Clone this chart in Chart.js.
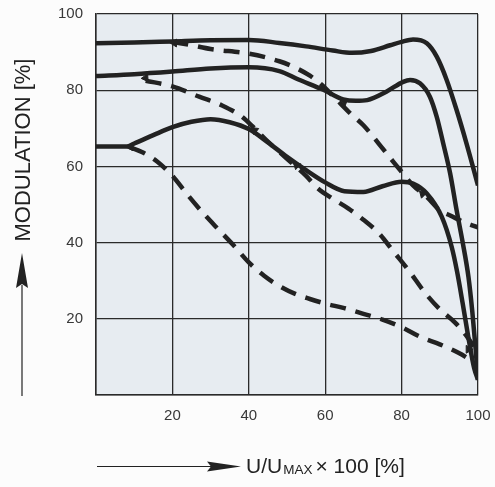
<!DOCTYPE html>
<html>
<head>
<meta charset="utf-8">
<script src="https://cdn.jsdelivr.net/npm/chart.js@4.4.1/dist/chart.umd.min.js"></script>
<style>
  html, body { margin: 0; padding: 0; background: #fcfcfc; }
  #c { display: block; }
</style>
</head>
<body>
<canvas id="c" width="495" height="487"></canvas>
<script>
'use strict';

// tick values shown on both axes
const xTicks = [20, 40, 60, 80, 100];
const yTicks = [20, 40, 60, 80, 100];

// solid curves
const solidTopX = [0, 10, 20, 30, 40, 48, 55, 62, 67, 72, 77, 80, 83, 86.6, 89.2, 91.8, 94.4, 97, 100];
const solidTopY = [92.3, 92.5, 92.8, 93.1, 93.2, 92.4, 91.5, 90.4, 89.8, 90.3, 91.8, 92.7, 93.3, 92.3, 88.8, 82.7, 74.8, 66, 55];

const solidMidX = [0, 10, 20, 30, 40, 48, 53, 59.5, 64.7, 68, 71, 76, 80.4, 82.2, 84.8, 87.4, 89.2, 90.9, 92.7, 94.4, 96, 97.5, 98.5, 99.3, 100];
const solidMidY = [83.7, 84.2, 84.9, 85.7, 86, 85, 82.8, 80.1, 77.6, 77.2, 77.4, 79.6, 82.2, 82.7, 81.8, 78.3, 73, 66, 58.2, 48.5, 40, 31, 22, 13, 4];

const solidLowX = [0, 8, 10, 15, 20, 25, 30, 35, 40, 45, 50, 55, 60, 65, 70, 75, 80, 83, 86.6, 90.5, 93.1, 94.5, 96, 97.5, 99, 100];
const solidLowY = [65.2, 65.2, 66, 68.2, 70.3, 71.7, 72.4, 71.6, 69.8, 66.3, 62.5, 59, 55.8, 53.5, 53.3, 54.8, 56, 55.5, 52.9, 46.8, 38.9, 32.5, 24, 15, 7, 4];

// dashed curves
const dashTopX = [20, 25, 30, 40, 48, 52, 56, 59, 63, 67, 70, 74, 78, 80.5, 83, 86.6, 90, 93, 96, 100];
const dashTopY = [92.7, 91.8, 90.8, 89.6, 87.6, 86, 83.8, 81.5, 77.5, 73.5, 70.8, 66, 61, 58, 55, 52, 48.5, 47, 45.5, 44];

const dashMidX = [13, 20, 27, 33, 38, 41, 45, 50, 55, 58, 62, 66, 70, 74, 78, 82, 86, 90, 94, 97, 100];
const dashMidY = [82.5, 81, 78.3, 76, 73.2, 70.5, 66.5, 62, 57.5, 54.3, 51.5, 49, 46, 42.5, 37.5, 32.5, 27, 22.5, 19, 15.5, 11];

const dashLowX = [9, 12, 16, 20, 24, 28, 32, 36, 40, 44, 48, 52, 56, 60, 65, 70, 75, 80, 85, 90, 95, 100];
const dashLowY = [65, 63.8, 61.3, 57.5, 52.5, 47.8, 43.5, 39.3, 34.8, 31.3, 28.6, 26.6, 25.2, 24, 22.8, 21.3, 19.8, 17.8, 15.2, 13.3, 11, 8];

// small arrow marks where dashed branches meet the solid curves
const arrowX = [20.5, 13, 9, 41.5, 52.5, 65, 85.5, 97.5];
const arrowY = [92.4, 83.2, 65.1, 69.5, 60.3, 77, 52.8, 12];
const arrowRot = [-88, -95, -95, -52, -48, -70, -45, -30];

const INK = '#222222';

function toPoints(xs, ys) {
    return xs.map((x, i) => ({ x: x, y: ys[i] }));
}

function curve(xs, ys, dashed) {
    return {
        data: toPoints(xs, ys),
        borderColor: INK,
        borderWidth: 4.5,
        borderDash: dashed ? [16, 10] : [],
        pointRadius: 0,
        fill: false,
        cubicInterpolationMode: 'monotone'
    };
}

// plot background + axis titles with arrows
const decor = {
    id: 'decor',
    beforeDraw(chart) {
        const { ctx, chartArea: a } = chart;
        ctx.save();
        ctx.fillStyle = '#fcfcfc';
        ctx.fillRect(0, 0, chart.width, chart.height);
        ctx.fillStyle = '#e7ecf1';
        ctx.fillRect(a.left, a.top, a.right - a.left, a.bottom - a.top);
        ctx.restore();
    },
    afterDraw(chart) {
        const ctx = chart.ctx;
        ctx.save();
        ctx.fillStyle = INK;
        ctx.strokeStyle = INK;
        ctx.lineWidth = 1.2;

        // y title
        ctx.save();
        ctx.translate(30, 150);
        ctx.rotate(-Math.PI / 2);
        ctx.font = '22px "Liberation Sans", Arial, sans-serif';
        ctx.textAlign = 'center';
        ctx.textBaseline = 'alphabetic';
        ctx.fillText('MODULATION [%]', 0, 0);
        ctx.restore();

        // y arrow
        ctx.beginPath();
        ctx.moveTo(22, 396);
        ctx.lineTo(22, 285);
        ctx.stroke();
        ctx.beginPath();
        ctx.moveTo(22, 253);
        ctx.lineTo(28, 288);
        ctx.lineTo(22, 284);
        ctx.lineTo(16, 288);
        ctx.closePath();
        ctx.fill();

        // x arrow
        ctx.beginPath();
        ctx.moveTo(97, 466.5);
        ctx.lineTo(212, 466.5);
        ctx.stroke();
        ctx.beginPath();
        ctx.moveTo(241, 466.5);
        ctx.lineTo(207, 461.5);
        ctx.lineTo(211, 466.5);
        ctx.lineTo(207, 471.5);
        ctx.closePath();
        ctx.fill();

        // x title with subscript
        ctx.textBaseline = 'alphabetic';
        ctx.textAlign = 'left';
        let x = 246;
        const base = 473;
        ctx.font = '21px "Liberation Sans", Arial, sans-serif';
        ctx.fillText('U/U', x, base);
        x += ctx.measureText('U/U').width + 1;
        ctx.font = '13.5px "Liberation Sans", Arial, sans-serif';
        ctx.fillText('MAX', x, base + 1);
        x += ctx.measureText('MAX').width + 3;
        ctx.font = '21px "Liberation Sans", Arial, sans-serif';
        ctx.fillText('\u00d7 100 [%]', x, base);
        ctx.restore();
    }
};

const tickFont = { family: '"Liberation Sans", Arial, sans-serif', size: 15 };

new Chart(document.getElementById('c'), {
    type: 'line',
    data: {
        datasets: [
            curve(solidTopX, solidTopY, false),
            curve(solidMidX, solidMidY, false),
            curve(solidLowX, solidLowY, false),
            curve(dashTopX, dashTopY, true),
            curve(dashMidX, dashMidY, true),
            curve(dashLowX, dashLowY, true),
            {
                data: toPoints(arrowX, arrowY),
                showLine: false,
                pointStyle: 'triangle',
                pointRadius: 4.5,
                pointRotation: arrowRot,
                pointBackgroundColor: INK,
                pointBorderColor: INK,
                pointBorderWidth: 1
            }
        ]
    },
    options: {
        responsive: false,
        animation: false,
        layout: { padding: { left: 0, right: 17, top: 14, bottom: 0 } },
        plugins: {
            legend: { display: false },
            tooltip: { enabled: false }
        },
        scales: {
            x: {
                type: 'linear',
                min: 0,
                max: 100,
                afterBuildTicks(scale) {
                    scale.ticks = [0].concat(xTicks).map(v => ({ value: v }));
                },
                afterFit(scale) {
                    scale.height = 92;
                    scale.paddingLeft = 0;
                    scale.paddingRight = 0;
                },
                ticks: {
                    font: tickFont,
                    color: '#383838',
                    padding: 12,
                    callback: v => (v === 0 ? '' : v)
                },
                grid: { color: '#2a2a2a', lineWidth: 1.3, drawTicks: false },
                border: { color: '#2a2a2a', width: 1.5 }
            },
            y: {
                type: 'linear',
                min: 0,
                max: 100,
                afterBuildTicks(scale) {
                    scale.ticks = [0].concat(yTicks).map(v => ({ value: v }));
                },
                afterFit(scale) {
                    scale.width = 96;
                    scale.paddingTop = 0;
                    scale.paddingBottom = 0;
                },
                ticks: {
                    font: tickFont,
                    color: '#383838',
                    padding: 13,
                    callback: v => (v === 0 ? '' : v)
                },
                grid: { color: '#2a2a2a', lineWidth: 1.3, drawTicks: false },
                border: { color: '#2a2a2a', width: 1.5 }
            }
        }
    },
    plugins: [decor]
});
</script>
</body>
</html>
